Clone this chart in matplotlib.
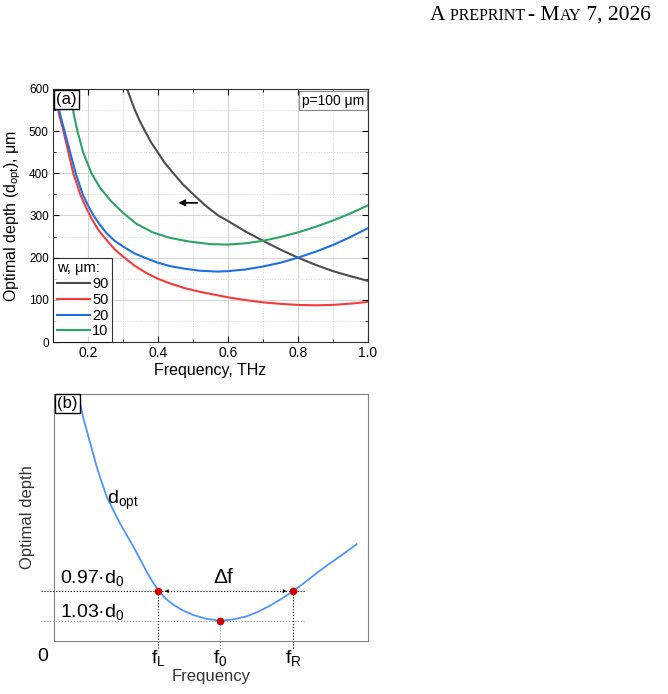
import numpy as np
import matplotlib
matplotlib.use('Agg')
import matplotlib.pyplot as plt

plt.rcParams['font.family'] = ['Liberation Sans', 'DejaVu Sans']
plt.rcParams['mathtext.default'] = 'regular'

# panel (a): optimal depth vs frequency, p = 100 um
f90 = [0.312, 0.323, 0.334, 0.348, 0.363, 0.38, 0.399, 0.42, 0.444, 0.471, 0.501, 0.535, 0.572,
       0.6, 0.65, 0.7, 0.75, 0.8, 0.85, 0.9, 0.95, 1.0]
d90 = [600, 574, 550, 524, 500, 474, 450, 424, 400, 374, 350, 324, 300,
       287, 262, 240, 219, 200, 183, 168, 156, 145]

f50 = [0.102, 0.118, 0.130, 0.144, 0.158, 0.178, 0.195, 0.212, 0.232, 0.253, 0.276, 0.301, 0.333,
       0.368, 0.40, 0.434, 0.475, 0.52, 0.6, 0.65, 0.7, 0.75, 0.8, 0.85, 0.9, 0.95, 1.0]
d50 = [600, 538, 500, 450, 400, 350, 318, 290, 263, 242, 220, 202, 181,
       163, 150, 139, 128, 119, 106, 99.5, 94, 90.5, 88, 87, 88, 91, 95]

f20 = [0.105, 0.121, 0.133, 0.149, 0.165, 0.185, 0.2, 0.215, 0.233, 0.253, 0.276, 0.301, 0.333,
       0.368, 0.40, 0.434, 0.475, 0.52, 0.57, 0.6, 0.65, 0.7, 0.75, 0.8, 0.85, 0.9, 0.95, 1.0]
d20 = [600, 538, 500, 450, 400, 350, 324, 301, 279, 258, 240, 226, 210,
       198, 188, 180, 174, 169, 167, 168, 172, 179, 188, 200, 214, 230, 249, 270]

f10 = [0.148, 0.160, 0.170, 0.186, 0.210, 0.235, 0.265, 0.298, 0.337, 0.385, 0.434, 0.491, 0.55,
       0.6, 0.65, 0.7, 0.75, 0.8, 0.85, 0.9, 0.95, 1.0]
d10 = [600, 538, 500, 450, 400, 365, 335, 308, 281, 260, 247, 238, 232,
       231, 234, 240, 249, 260, 273, 288, 305, 324]

widths = ['90', '50', '20', '10']
colors = ['#4d4d4d', '#f23c3c', '#1f6fe0', '#2ca463']

# panel (b): sketch, arbitrary units
b_freq = [0.083, 0.093, 0.104, 0.12, 0.136, 0.152, 0.168, 0.19, 0.210, 0.232, 0.253, 0.275,
          0.295, 0.315, 0.332, 0.355, 0.380, 0.41, 0.444, 0.485, 0.529, 0.57, 0.614, 0.65,
          0.688, 0.725, 0.762, 0.80, 0.837, 0.870, 0.900, 0.932, 0.964]
b_depth = [0.965, 0.905, 0.854, 0.78, 0.706, 0.643, 0.584, 0.527, 0.477, 0.428, 0.382, 0.330,
           0.281, 0.238, 0.205, 0.172, 0.147, 0.124, 0.105, 0.090, 0.082, 0.087, 0.100, 0.118,
           0.143, 0.171, 0.202, 0.238, 0.275, 0.306, 0.333, 0.362, 0.392]
f_L, f_0, f_R = 0.332, 0.529, 0.762
d_0, d_band = 0.082, 0.202

header = [('A', 15.5), (' PREPRINT ', 11.5), ('- M', 15.5), ('AY', 11.5), (' 7, 2026', 15.5)]

fig = plt.figure(figsize=(6.68, 6.94), dpi=100)

# running header in small caps, pieces laid out along one baseline
renderer = fig.canvas.get_renderer()
x = 430.0
for s, sz in header:
    t = fig.text(x / 668, 1 - 19.5 / 694, s, size=sz, family='Liberation Serif',
                 va='baseline', ha='left')
    x += t.get_window_extent(renderer).width

# ---- panel (a)
ax1 = fig.add_axes([0.0793, 0.5072, 0.4716, 0.3646])
for f, d, w, c in zip([f90, f50, f20, f10], [d90, d50, d20, d10], widths, colors):
    ax1.plot(f, d, color=c, lw=1.5, label=w)
ax1.set_xlim(0.1, 1.0)
ax1.set_ylim(0, 600)
ax1.set_xticks([0.2, 0.4, 0.6, 0.8, 1.0])
ax1.set_xticks(np.arange(0.3, 1.0, 0.2), minor=True)
ax1.set_yticks(range(0, 601, 100))
ax1.set_yticks(range(50, 600, 100), minor=True)
ax1.grid(True, which='major', color='#d4d4d4', lw=0.8)
ax1.grid(True, which='minor', color='#d4d4d4', lw=0.7, ls=':')
ax1.set_axisbelow(True)
ax1.tick_params(which='both', direction='in', top=True, right=True, pad=3)
ax1.tick_params(axis='x', labelsize=10)
ax1.tick_params(axis='y', labelsize=8.5)
ax1.tick_params(which='major', length=4)
ax1.tick_params(which='minor', length=2.5)
for sp in ax1.spines.values():
    sp.set_color('#333333')
ax1.set_xlabel('Frequency, THz', fontsize=11.5, labelpad=2)
ax1.set_ylabel('Optimal depth (d$_{opt}$), μm', fontsize=11.5, labelpad=4)

ax1.annotate('', xy=(0.45, 330), xytext=(0.52, 330),
             arrowprops=dict(arrowstyle='-|>', color='black', lw=1.3, mutation_scale=9))

leg = ax1.legend(title='w, μm:', loc='lower left', borderaxespad=0, fontsize=10.5,
                 title_fontsize=10.5, frameon=True, fancybox=False, handlelength=2.3,
                 labelspacing=0.12, handletextpad=0.15, borderpad=0.25)
leg.get_frame().set_edgecolor('black')
leg.get_frame().set_linewidth(0.8)
leg._legend_box.align = 'left'
leg.set_zorder(5)

ax1.text(0.01, 0.988, '(a)', transform=ax1.transAxes, fontsize=12, va='top', ha='left',
         zorder=6, bbox=dict(boxstyle='square,pad=0.12', fc='white', ec='black', lw=1))
ax1.text(0.988, 0.982, 'p=100 μm', transform=ax1.transAxes, fontsize=10, va='top', ha='right',
         zorder=6, bbox=dict(boxstyle='square,pad=0.18', fc='white', ec='#888888', lw=0.8))

# ---- panel (b)
ax2 = fig.add_axes([0.0808, 0.0764, 0.470, 0.3559])
ax2.plot(b_freq, b_depth, color='#4d94ff', lw=1.3, zorder=3)
ax2.set_xlim(0, 1)
ax2.set_ylim(0, 1)
for sp in ax2.spines.values():
    sp.set_color('#808080')

ax2.plot([-0.04, 0.8], [d_band, d_band], color='black', lw=0.8, ls=':', clip_on=False)
ax2.plot([-0.04, 0.8], [d_0, d_0], color='#999999', lw=0.8, ls=':', clip_on=False)
for f, d, c in [(f_L, d_band, 'black'), (f_0, d_0, '#999999'), (f_R, d_band, 'black')]:
    ax2.plot([f, f], [d, -0.036], color=c, lw=0.8, ls=':', clip_on=False)
ax2.plot([f_L, f_0, f_R], [d_band, d_0, d_band], 'o', color='#d00000', ms=4.5, zorder=4)

ax2.annotate('', xy=(f_L + 0.012, d_band), xytext=(f_L + 0.06, d_band),
             arrowprops=dict(arrowstyle='-|>', color='black', lw=0.01, mutation_scale=7))
ax2.annotate('', xy=(f_R - 0.012, d_band), xytext=(f_R - 0.06, d_band),
             arrowprops=dict(arrowstyle='-|>', color='black', lw=0.01, mutation_scale=7))

ax2.text(0.54, d_band + 0.015, 'Δf', fontsize=15, ha='center', va='bottom')
ax2.text(0.02, 0.255, '0.97·d$_0$', fontsize=14, ha='left', va='center')
ax2.text(0.02, 0.119, '1.03·d$_0$', fontsize=14, ha='left', va='center')
ax2.text(0.169, 0.571, 'd$_{opt}$', fontsize=14, ha='left', va='center')

ax2.set_yticks([])
ax2.set_xticks([f_L, f_0, f_R])
ax2.set_xticklabels(['f$_L$', 'f$_0$', 'f$_R$'], fontsize=14)
ax2.tick_params(axis='x', length=0, pad=5)
fig.text(0.064, 0.054, '0', fontsize=14, ha='center', va='center')
ax2.set_xlabel('Frequency', fontsize=12, color='#333333', labelpad=1)
ax2.set_ylabel('Optimal depth', fontsize=12, color='#333333', labelpad=14)

ax2.text(0.01, 0.992, '(b)', transform=ax2.transAxes, fontsize=12, va='top', ha='left',
         zorder=6, bbox=dict(boxstyle='square,pad=0.12', fc='white', ec='black', lw=1))

fig.savefig('out.png', dpi=100)
